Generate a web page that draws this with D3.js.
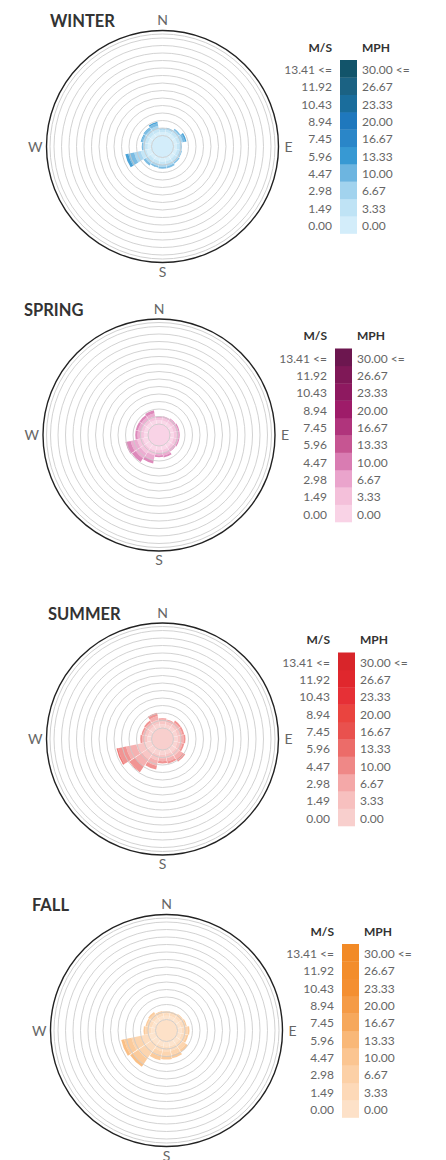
<!DOCTYPE html>
<html>
<head>
<meta charset="utf-8">
<script src="https://cdnjs.cloudflare.com/ajax/libs/d3/7.8.5/d3.min.js"></script>
<style>
  body { margin: 0; background: #fff; }
  svg { display: block; font-family: Lato, "Open Sans", sans-serif; }
</style>
</head>
<body>
<div id="chart"></div>
<script>
// wind roses, one per season
var seasons = ["WINTER", "SPRING", "SUMMER", "FALL"];
var directions = ["N", "NNE", "NE", "ENE", "E", "ESE", "SE", "SSE",
                  "S", "SSW", "SW", "WSW", "W", "WNW", "NW", "NNW"];
var msLabels = ["0.00", "1.49", "2.98", "4.47", "5.96", "7.45", "8.94", "10.43", "11.92", "13.41 <="];
var mphLabels = ["0.00", "3.33", "6.67", "10.00", "13.33", "16.67", "20.00", "23.33", "26.67", "30.00 <="];
var ringTicks = [0, 1, 2, 3, 4, 5, 6, 7, 8, 9, 10, 11, 12, 13];

// frequency (%) per direction, per speed bin (lowest bin first)
var winterFreq = [
  [0.45, 0.30, 0.15, 0.05], [0.50, 0.30, 0.20, 0.10], [0.50, 0.40, 0.30, 0.20],
  [0.50, 0.40, 0.40, 0.30, 0.20], [0.45, 0.35, 0.20, 0.10], [0.50, 0.35, 0.25, 0.10],
  [0.50, 0.40, 0.25, 0.15], [0.55, 0.40, 0.30, 0.20, 0.05], [0.55, 0.40, 0.30, 0.20, 0.05],
  [0.50, 0.40, 0.30, 0.15, 0.05], [0.50, 0.45, 0.35, 0.25, 0.05], [0.70, 0.80, 0.90, 0.80, 0.40],
  [0.50, 0.40, 0.25, 0.15], [0.50, 0.40, 0.30, 0.20, 0.10], [0.50, 0.40, 0.35, 0.25, 0.10],
  [0.50, 0.45, 0.40, 0.35, 0.20]
];
var springFreq = [
  [0.50, 0.30, 0.15, 0.05], [0.50, 0.35, 0.20, 0.05], [0.50, 0.35, 0.25, 0.10],
  [0.50, 0.40, 0.25, 0.15], [0.50, 0.40, 0.25, 0.15], [0.50, 0.40, 0.25, 0.15],
  [0.50, 0.35, 0.25, 0.10], [0.55, 0.45, 0.35, 0.25], [0.55, 0.40, 0.30, 0.25],
  [0.65, 0.65, 0.65, 0.45], [0.70, 0.80, 0.80, 0.60], [0.70, 0.80, 0.90, 0.70],
  [0.55, 0.45, 0.40, 0.30], [0.55, 0.45, 0.40, 0.30], [0.55, 0.45, 0.40, 0.30],
  [0.55, 0.50, 0.45, 0.40]
];
var summerFreq = [
  [0.50, 0.40, 0.25, 0.15], [0.50, 0.35, 0.25, 0.10], [0.55, 0.40, 0.30, 0.25],
  [0.55, 0.40, 0.30, 0.25], [0.55, 0.45, 0.35, 0.25], [0.55, 0.40, 0.30, 0.25],
  [0.65, 0.60, 0.55, 0.40], [0.60, 0.55, 0.45, 0.30], [0.60, 0.50, 0.40, 0.30],
  [0.70, 0.75, 0.75, 0.50], [0.80, 1.00, 1.10, 0.90, 0.10], [0.90, 1.20, 1.40, 1.10, 0.20],
  [0.55, 0.40, 0.30, 0.25], [0.50, 0.40, 0.30, 0.20], [0.55, 0.40, 0.30, 0.25],
  [0.60, 0.55, 0.50, 0.45]
];
var fallFreq = [
  [0.50, 0.35, 0.20, 0.05], [0.50, 0.35, 0.20, 0.05], [0.50, 0.35, 0.25, 0.10],
  [0.50, 0.40, 0.25, 0.15], [0.55, 0.45, 0.35, 0.25], [0.55, 0.40, 0.30, 0.25],
  [0.60, 0.55, 0.50, 0.35], [0.65, 0.65, 0.55, 0.45], [0.65, 0.65, 0.60, 0.50],
  [0.65, 0.70, 0.70, 0.55], [0.80, 1.10, 1.20, 0.90, 0.40], [0.90, 1.10, 1.30, 1.00, 0.40],
  [0.55, 0.45, 0.35, 0.25], [0.50, 0.40, 0.30, 0.20], [0.55, 0.40, 0.30, 0.25],
  [0.50, 0.35, 0.25, 0.10]
];

var winterColors = ["#d3edfa", "#bfe3f5", "#a2d3ee", "#6db5e0", "#3799d3", "#2a86c8", "#1f78bd", "#1a6d9c", "#1b6283", "#12546a"];
var springColors = ["#f9d3e6", "#f4c0da", "#eaa4cc", "#d97cb2", "#c65592", "#b0347c", "#9e1c69", "#8e1960", "#7f1857", "#6c164f"];
var summerColors = ["#f8cfcd", "#f7c0bf", "#f4a8a8", "#ef8887", "#ec6c69", "#e9514e", "#ea443f", "#e63036", "#e0272d", "#d8252a"];
var fallColors = ["#fde1c8", "#fdd9b8", "#fcd0a6", "#fbc591", "#f9b878", "#f6a85c", "#f59b46", "#f48f31", "#f38d2b", "#f28a26"];

var freqs = [winterFreq, springFreq, summerFreq, fallFreq];
var colors = [winterColors, springColors, summerColors, fallColors];

// where each panel sits on the page
var layout = [
  { cx: 162.5, cy: 146.5, titleX: 50, legendX: 340 },
  { cx: 159, cy: 435, titleX: 24, legendX: 335 },
  { cx: 162.5, cy: 739, titleX: 48, legendX: 338 },
  { cx: 166.5, cy: 1030.5, titleX: 32, legendX: 342 }
];

var width = 446, height = 1160;
var outerR = 116, innerR = 11, lastRing = 108.5;
var blockH = 17.35, blockW = 17;

var svg = d3.select("#chart").append("svg")
    .attr("width", width)
    .attr("height", height);

var r = d3.scaleLinear().domain([0, 13]).range([innerR, lastRing]);
var step = 2 * Math.PI / directions.length;
var pad = 0.5 * Math.PI / 180;

var arc = d3.arc()
    .innerRadius(function (d) { return r(d.y0); })
    .outerRadius(function (d) { return r(d.y1); })
    .startAngle(function (d) { return d.dir * step - step / 2 + pad; })
    .endAngle(function (d) { return d.dir * step + step / 2 - pad; });

seasons.forEach(function (name, s) {
    var p = layout[s];
    var col = colors[s];
    var g = svg.append("g").attr("transform", "translate(" + p.cx + "," + p.cy + ")");

    // outer frame
    g.append("circle").attr("r", outerR).attr("fill", "none")
        .attr("stroke", "#222").attr("stroke-width", 1.4);
    g.append("circle").attr("r", outerR - 3.5).attr("fill", "none")
        .attr("stroke", "#d0d0d0").attr("stroke-width", 1);

    // calm circle
    g.append("circle").attr("r", innerR).attr("fill", col[0]);

    // stacked bars
    var segs = [];
    freqs[s].forEach(function (row, i) {
        var acc = 0;
        row.forEach(function (v, b) {
            if (v > 0) segs.push({ dir: i, bin: b, y0: acc, y1: acc + v });
            acc += v;
        });
    });
    g.selectAll("path.bar").data(segs).enter().append("path")
        .attr("class", "bar")
        .attr("d", arc)
        .attr("fill", function (d) { return col[d.bin]; })
        .attr("fill-opacity", 0.9);

    // rings on top
    g.selectAll("circle.ring").data(ringTicks).enter().append("circle")
        .attr("class", "ring")
        .attr("r", function (d) { return r(d); })
        .attr("fill", "none")
        .attr("stroke", "#cacaca")
        .attr("stroke-opacity", 0.85)
        .attr("stroke-width", 1);

    // compass letters
    var cl = g.append("g").attr("fill", "#666").style("font-size", "14px");
    cl.append("text").attr("x", 0).attr("y", -121.5).attr("text-anchor", "middle").text("N");
    cl.append("text").attr("x", 0).attr("y", 130).attr("text-anchor", "middle").text("S");
    cl.append("text").attr("x", 122).attr("y", 5).attr("text-anchor", "start").text("E");
    cl.append("text").attr("x", -120).attr("y", 5).attr("text-anchor", "end").text("W");

    // title
    svg.append("text")
        .attr("x", p.titleX)
        .attr("y", p.cy - 119.5)
        .attr("fill", "#333")
        .style("font-size", "16.5px")
        .style("font-weight", "bold")
        .text(name);

    // legend
    var top = p.cy - 86.5;
    var lg = svg.append("g").attr("transform", "translate(" + p.legendX + "," + top + ")");
    lg.append("text").attr("x", -8).attr("y", -8.5).attr("text-anchor", "end")
        .attr("fill", "#333").style("font-size", "12px").style("font-weight", "bold").text("M/S");
    lg.append("text").attr("x", blockW + 5).attr("y", -8.5)
        .attr("fill", "#333").style("font-size", "12px").style("font-weight", "bold").text("MPH");

    var rows = lg.selectAll("g.row").data(d3.range(msLabels.length)).enter().append("g")
        .attr("class", "row")
        .attr("transform", function (i) { return "translate(0," + ((msLabels.length - 1 - i) * blockH) + ")"; });
    rows.append("rect")
        .attr("width", blockW)
        .attr("height", blockH + 0.3)
        .attr("fill", function (i) { return col[i]; });
    rows.append("text").attr("x", -8).attr("y", 14).attr("text-anchor", "end")
        .attr("fill", "#666").style("font-size", "12px")
        .text(function (i) { return msLabels[i]; });
    rows.append("text").attr("x", blockW + 5).attr("y", 14)
        .attr("fill", "#666").style("font-size", "12px")
        .text(function (i) { return mphLabels[i]; });
});
</script>
</body>
</html>
